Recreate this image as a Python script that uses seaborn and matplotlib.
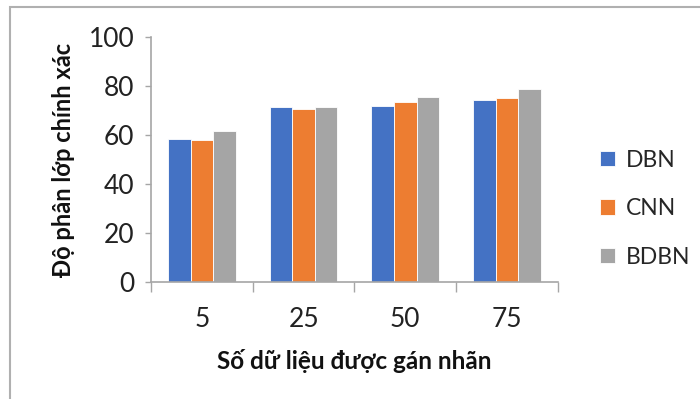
import matplotlib
matplotlib.use("Agg")
import matplotlib.pyplot as plt
import seaborn as sns
import pandas as pd
from matplotlib.patches import Rectangle

categories = ["5", "25", "50", "75"]
series = ["DBN", "CNN", "BDBN"]
dbn = [58.2, 71.3, 71.8, 74.1]
cnn = [58.0, 70.7, 73.3, 75.1]
bdbn = [61.6, 71.4, 75.5, 78.6]
yticks = [0, 20, 40, 60, 80, 100]
colors = ["#4472C4", "#ED7D31", "#A5A5A5"]

rows = []
for name, vals in zip(series, [dbn, cnn, bdbn]):
    for c, v in zip(categories, vals):
        rows.append({"cat": c, "series": name, "value": v})
df = pd.DataFrame(rows)

sns.set_theme(style="white")
plt.rcParams["font.family"] = ["Lato", "DejaVu Sans"]

fig = plt.figure(figsize=(7, 3.99), dpi=100)
ax = fig.add_axes([0.2157, 0.2932, 0.797 - 0.2157, 0.9073 - 0.2932])

sns.barplot(data=df, x="cat", y="value", hue="series", order=categories,
            hue_order=series, palette=colors, width=0.666, saturation=1,
            edgecolor="white", linewidth=0.6, ax=ax, legend=True)

ax.set_ylim(0, 100)
ax.set_xlim(-0.5, len(categories) - 0.5)
ax.set_yticks(yticks)
ax.set_yticklabels([str(t) for t in yticks], fontsize=19, color="#222222")
ax.set_xticks(range(len(categories)))
ax.set_xticklabels(categories, fontsize=19, color="#222222")
ax.tick_params(axis="x", which="major", length=0, pad=18)
ax.set_xticks([i - 0.5 for i in range(len(categories) + 1)], minor=True)
ax.tick_params(axis="x", which="minor", length=7, width=1, color="#a6a6a6",
               direction="out", bottom=True)
ax.tick_params(axis="y", which="major", length=4, width=1, color="#a6a6a6",
               direction="out", left=True, pad=8)

for side in ["top", "right"]:
    ax.spines[side].set_visible(False)
for side in ["left", "bottom"]:
    ax.spines[side].set_color("#a6a6a6")
    ax.spines[side].set_linewidth(1.2)

ax.set_xlabel("Số dữ liệu được gán nhãn", fontsize=17.5, fontweight="bold",
              color="#111111", labelpad=12)
ax.set_ylabel("Độ phân lớp chính xác", fontsize=17, fontweight="bold",
              color="#111111", labelpad=10)

handles, labels = ax.get_legend_handles_labels()
ax.legend(handles, labels, loc="center left", bbox_to_anchor=(1.08, 0.30),
          frameon=False, fontsize=16.5, handlelength=0.65, handleheight=0.65,
          labelspacing=1.2, handletextpad=0.5, borderaxespad=0)

# chart-area border
fig.patches.append(Rectangle((10 / 700, -0.5), 2, 0.5 + 1 - 7 / 399,
                             transform=fig.transFigure, fill=False,
                             edgecolor="#b0b0b0", linewidth=1.5))

fig.savefig("out.png", dpi=100)
